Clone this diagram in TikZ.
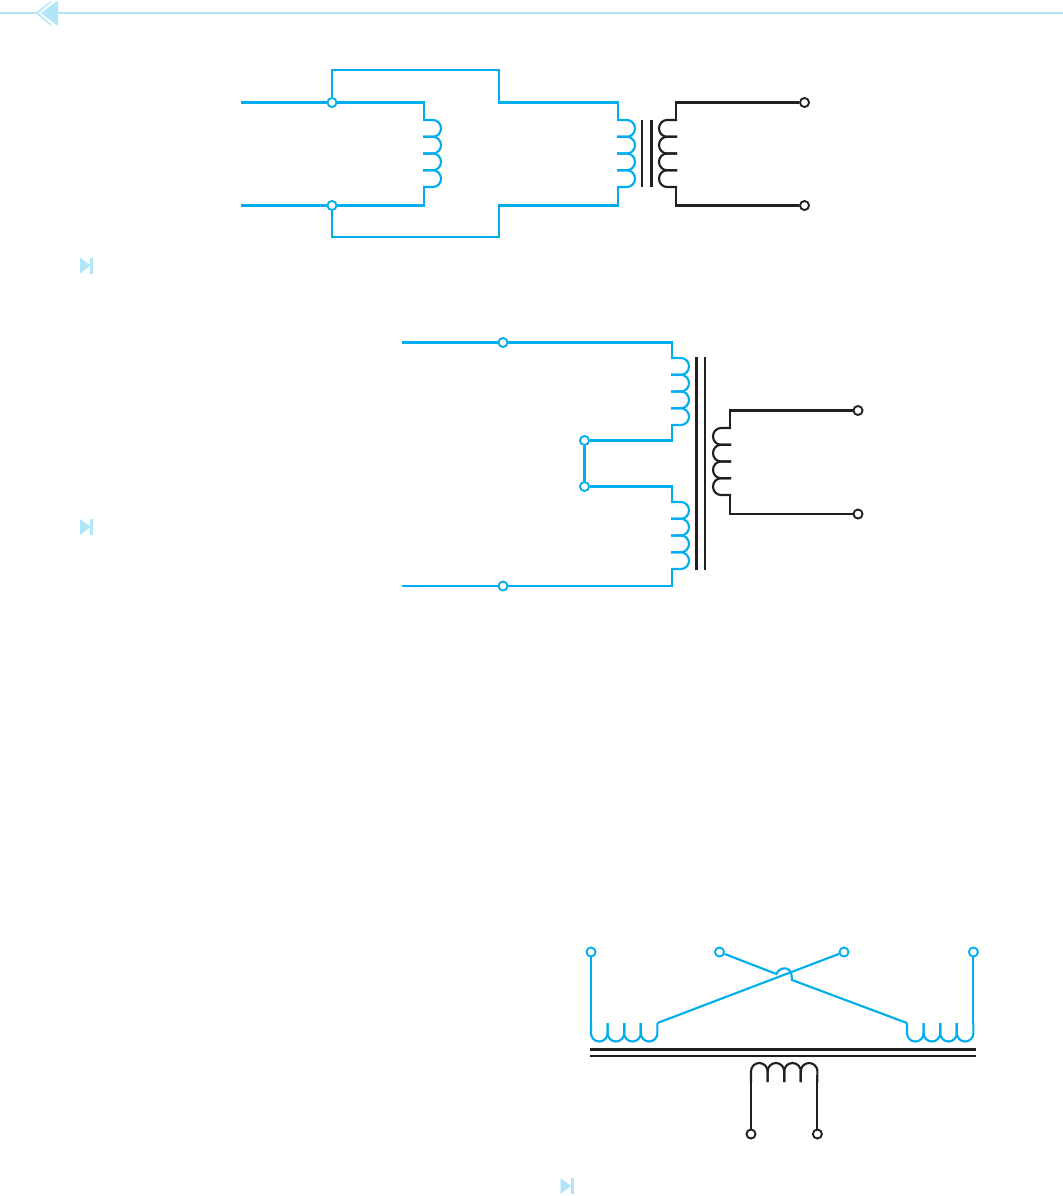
\documentclass[tikz,border=0pt]{standalone}
\definecolor{wblue}{HTML}{00AEEF}
\definecolor{wblack}{HTML}{231F20}
\definecolor{pale}{HTML}{B0E6F9}
\newcommand{\coilV}[4]{\foreach \i in {0,...,3}
  \draw[#4] ({#1-#3},{#2+\i*16.75}) -- ++({#3*10},0) arc[start angle=-90,delta angle={#3*180},x radius=8,y radius=8.375] -- ++({#3*-10},0);}
\newcommand{\coilH}[5]{\foreach \i in {0,...,3}
  \draw[#5] ({#1+\i*16.6},#2) -- ++(0,{#4*(#3-8.3)}) arc[start angle=180,delta angle={-#4*180},radius=8.3] -- ++(0,{-#4*(#3-8.3)});}
\tikzset{
  x=0.75pt,y=-0.75pt,
  bw/.style={draw=wblue,line width=1.6pt,line join=miter},
  kw/.style={draw=wblack,line width=1.6pt,line join=miter},
  core/.style={draw=wblack,line width=1.6pt},
  bt/.style={circle,draw=wblue,fill=white,line width=1.4pt,inner sep=0pt,minimum size=6.8pt},
  kt/.style={circle,draw=wblack,fill=white,line width=1.4pt,inner sep=0pt,minimum size=6.8pt},
}
\newcommand{\playicon}[2]{\fill[pale] (#1-0.5,#2-8) -- (#1+10,#2) -- (#1-0.5,#2+8) -- cycle;
  \fill[pale] (#1+9.8,#2-8) rectangle (#1+12.8,#2+8);}
\begin{document}
\begin{tikzpicture}
\useasboundingbox (0,0) rectangle (1063,1196);
% header
\draw[pale,line width=1.2pt] (0,13) -- (36,13) (58,13) -- (1063,13);
\fill[pale] (51,0.5) -- (35.5,13) -- (51,26) -- cycle;
\fill[white] (51.5,2) -- (38.5,13) -- (51.5,24.5) -- cycle;
\fill[pale] (58,0.5) -- (41,13) -- (58,26) -- cycle;
\playicon{80.5}{265.5}
\playicon{80.5}{527}
\playicon{561}{1186}

% ---- figure 1
\coordinate (l1) at (241,102.5); \coordinate (l2) at (241,205.5);
\node[bt] (a) at (332,102.5) {};
\node[bt] (b) at (332,205.5) {};
\coordinate (c1t) at (424,120); \coordinate (c1b) at (424,187);
\coordinate (c2t) at (618,120); \coordinate (c2b) at (618,187);
\coordinate (c3t) at (676,120); \coordinate (c3b) at (676,187);
\coordinate (u1) at (499,70); \coordinate (u2) at (499,102.5);
\coordinate (d1) at (499,237); \coordinate (d2) at (499,205.5);
\draw[bw] (l1) -- (a);
\draw[bw] (l2) -- (b);
\draw[bw] (a) -| (c1t);
\draw[bw] (b) -| (c1b);
\draw[bw] (a) |- (u1) -- (u2) -| (c2t);
\draw[bw] (b) |- (d1) -- (d2) -| (c2b);
\coilV{424}{120}{1}{bw}
\coilV{618}{120}{1}{bw}
\coilV{676}{120}{-1}{kw}
\draw[core] (642,120) -- (642,187);
\draw[core] (651.5,120) -- (651.5,187);
\node[kt] (o1) at (804.5,102.5) {};
\node[kt] (o2) at (804.5,205.5) {};
\draw[kw] (c3t) |- (o1);
\draw[kw] (c3b) |- (o2);

% ---- figure 2
\coordinate (l3) at (402,342.5); \coordinate (l4) at (402,586);
\node[bt] (e) at (503,342.5) {};
\node[bt] (f) at (503,586) {};
\node[bt] (g) at (584.5,440.5) {};
\node[bt] (h) at (584.5,486.5) {};
\coordinate (c4t) at (672,358); \coordinate (c4b) at (672,425);
\coordinate (c5t) at (672,502); \coordinate (c5b) at (672,569);
\coordinate (c6t) at (730,428); \coordinate (c6b) at (730,495);
\draw[bw] (l3) -- (e);
\draw[bw] (l4) -- (f);
\draw[bw] (e) -| (c4t);
\draw[bw] (f) -| (c5b);
\draw[bw] (g) -| (c4b);
\draw[bw] (h) -| (c5t);
\draw[bw] (g) -- (h);
\coilV{672}{358}{1}{bw}
\coilV{672}{502}{1}{bw}
\coilV{730}{428}{-1}{kw}
\draw[core] (696.5,357) -- (696.5,570);
\draw[core] (705,357) -- (705,570);
\node[kt] (o3) at (858,410.5) {};
\node[kt] (o4) at (858,514) {};
\draw[kw] (c6t) |- (o3);
\draw[kw] (c6b) |- (o4);

% ---- figure 3
\node[bt] (p1) at (591,952) {};
\node[bt] (p2) at (719.5,952) {};
\node[bt] (p3) at (844,952) {};
\node[bt] (p4) at (973.4,952) {};
\node[kt] (q1) at (751,1134) {};
\node[kt] (q2) at (817.4,1134) {};
\coordinate (s1) at (591,1024); \coordinate (s2) at (657.4,1023);
\coordinate (r1) at (907,1023); \coordinate (r2) at (973.4,1024);
\coordinate (k1) at (751,1075); \coordinate (k2) at (817.4,1075);
\coordinate (h1) at (776.5,974); \coordinate (h2) at (792,980);
\coilH{591}{1023}{18.5}{1}{bw}
\coilH{907}{1023}{18.5}{1}{bw}
\coilH{751}{1082}{19}{-1}{kw}
\draw[bw] (p1) -- (s1);
\draw[bw] (p4) -- (r2);
\draw[bw] (s2) -- (p3);
\draw[bw] (p2) -- (h1) .. controls (779,967) and (790,965.5) .. (791.5,975) -- (h2) -- (r1);
\draw[kw] (k1) -- (q1);
\draw[kw] (k2) -- (q2);
\draw[core] (590,1049.5) -- (975.5,1049.5);
\draw[core] (590,1056) -- (975.5,1056);
\end{tikzpicture}
\end{document}
